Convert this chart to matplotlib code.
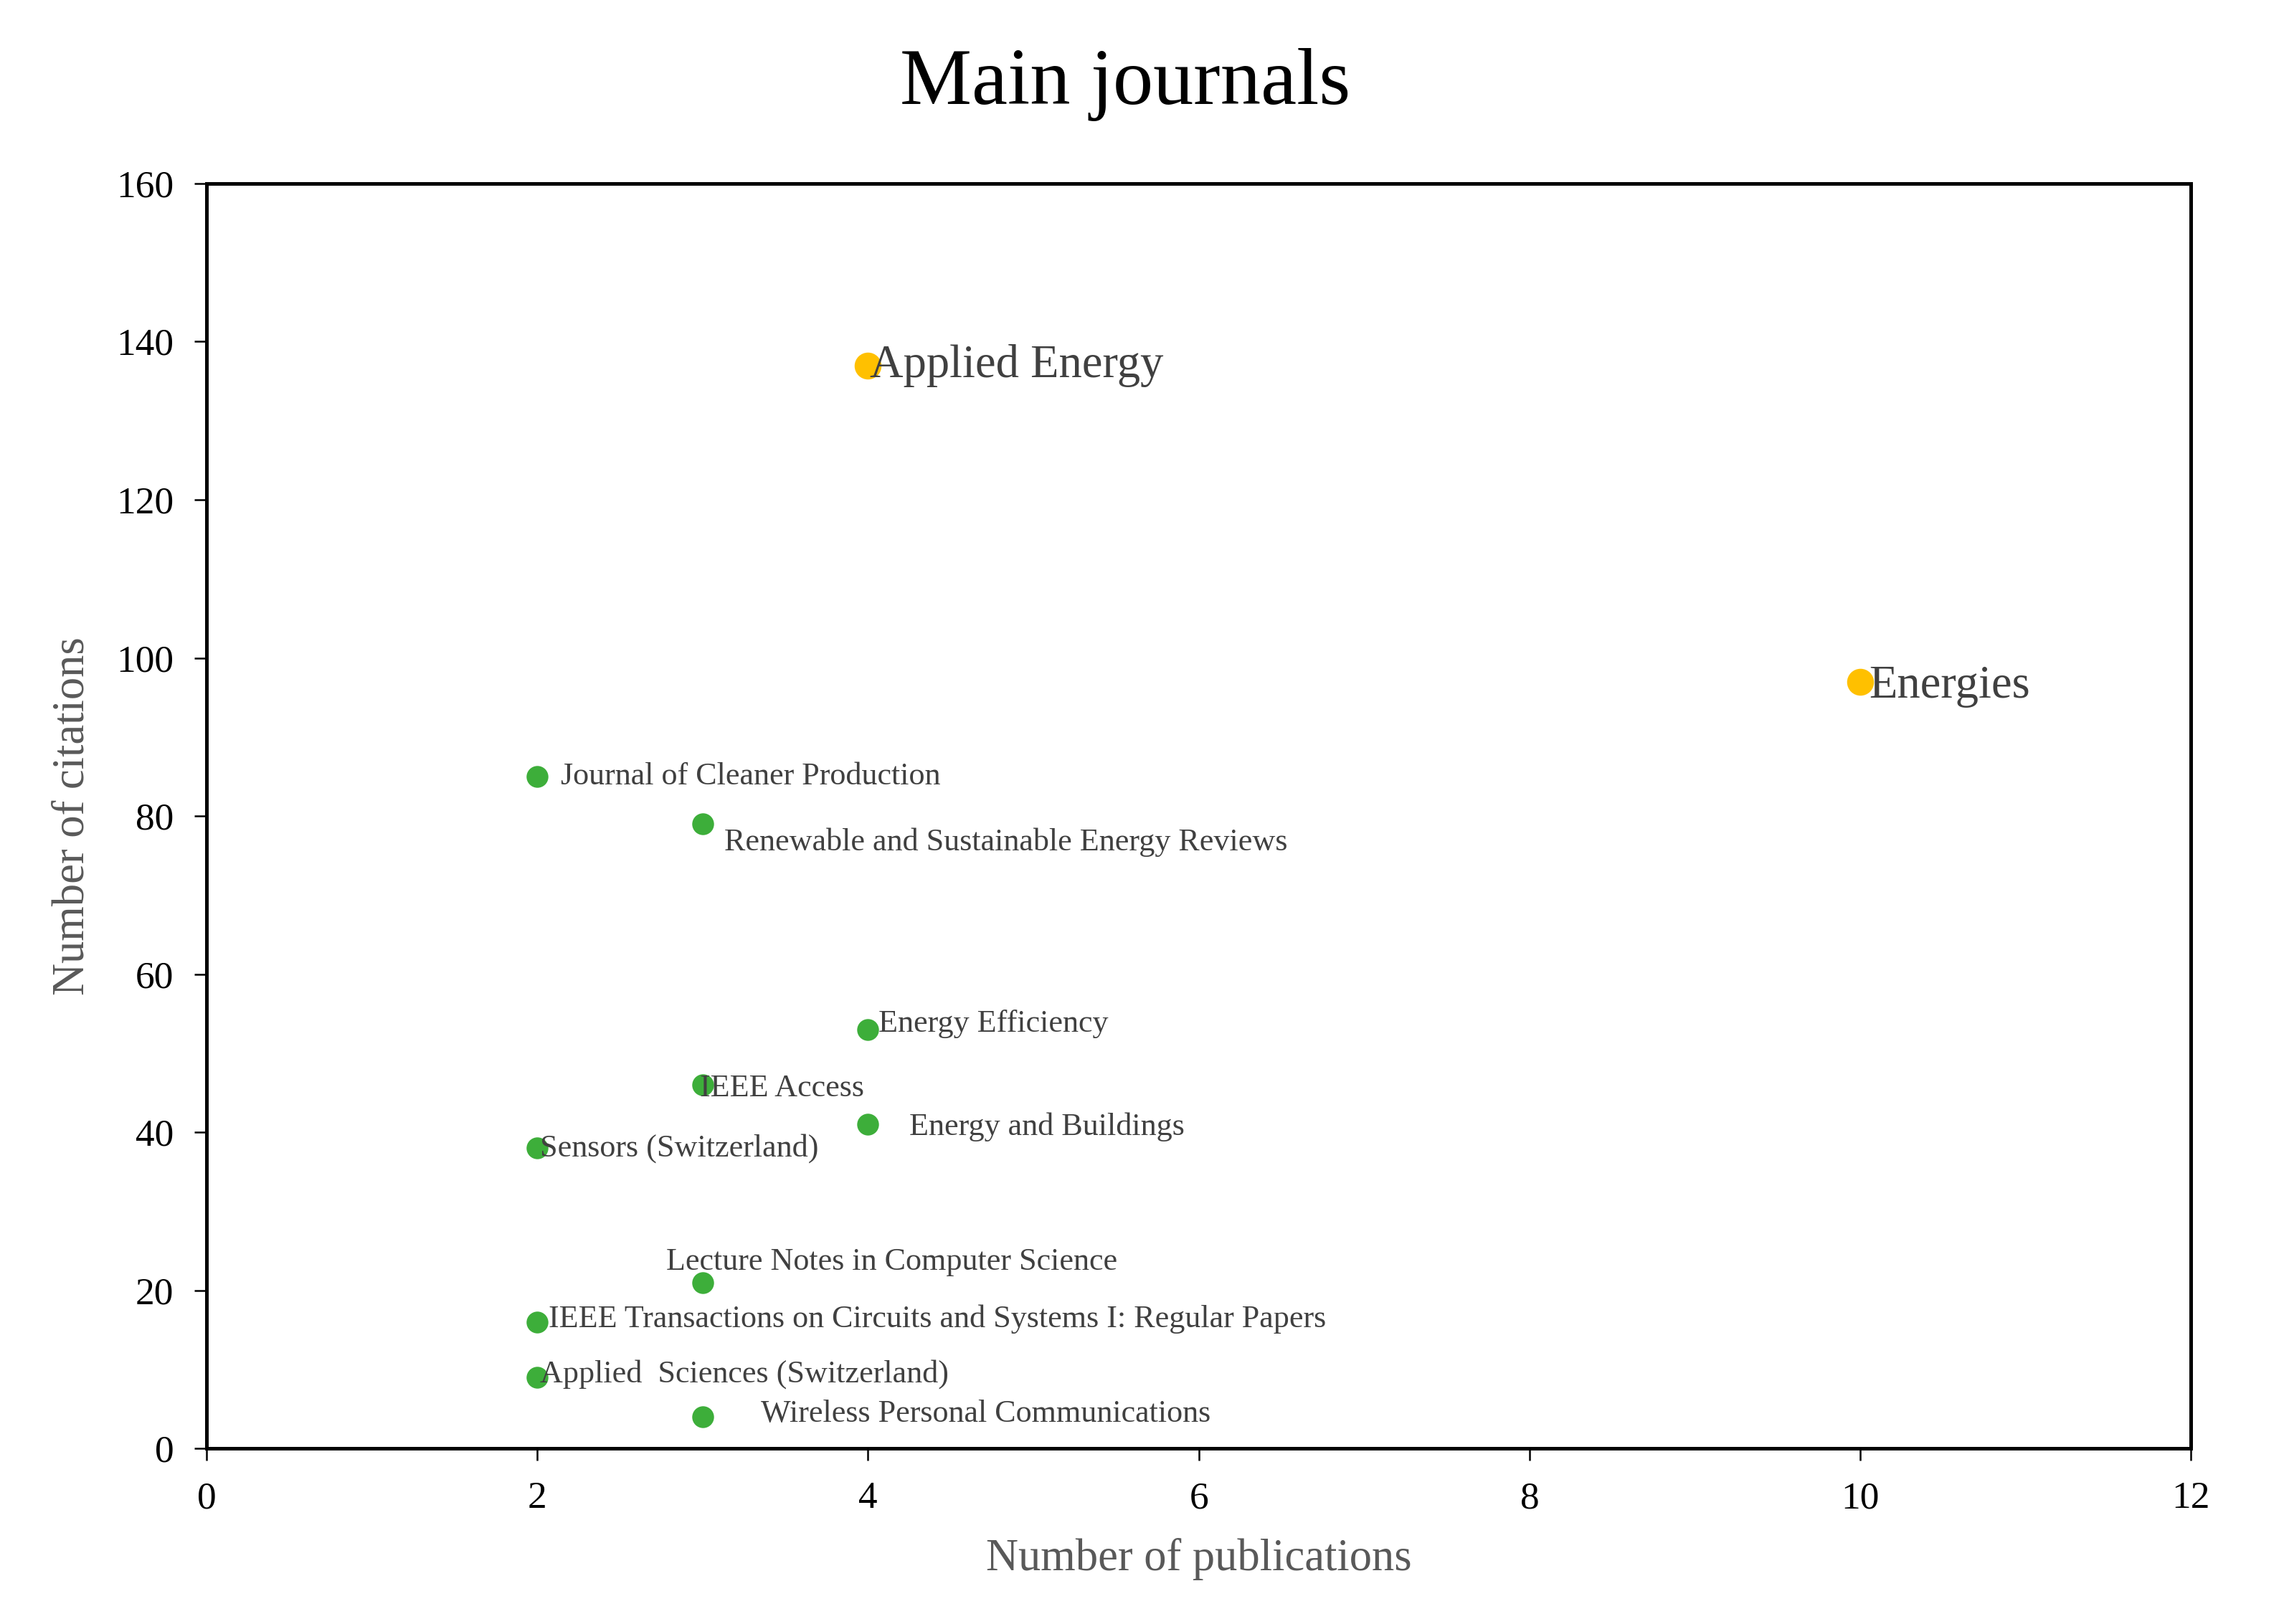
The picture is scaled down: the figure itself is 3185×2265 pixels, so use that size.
import matplotlib
matplotlib.use("Agg")
import matplotlib.pyplot as plt

# ----- data -----
journals = [
    "Applied Energy",
    "Energies",
    "Journal of Cleaner Production",
    "Renewable and Sustainable Energy Reviews",
    "Energy Efficiency",
    "IEEE Access",
    "Energy and Buildings",
    "Sensors (Switzerland)",
    "Lecture Notes in Computer Science",
    "IEEE Transactions on Circuits and Systems I: Regular Papers",
    "Applied  Sciences (Switzerland)",
    "Wireless Personal Communications",
]
publications = [4, 10, 2, 3, 4, 3, 4, 2, 3, 2, 2, 3]
citations = [137, 97, 85, 79, 53, 46, 41, 38, 21, 16, 9, 4]
top_group = [True, True, False, False, False, False, False, False, False, False, False, False]

# label offsets in points (left edge of text, vertical centre)
label_dx = [0.5, 3, 7.8, 7.3, 3.4, -1, 13.7, 1, -12.2, 3.9, 1, 19.5]
label_dy = [0, -1.5, 0, -6.2, 2, -1.2, -0.8, 0, 7, 1, 1, 1]

ORANGE = "#FFC000"
GREEN = "#3DAE3A"

plt.rcParams["font.family"] = ["Liberation Serif", "DejaVu Serif"]

fig = plt.figure(figsize=(10.62, 7.55), dpi=300)
ax = fig.add_axes([0.0904, 0.108, 0.959 - 0.0904, 0.887 - 0.108])

for i in range(len(journals)):
    if top_group[i]:
        ax.plot(publications[i], citations[i], "o", color=ORANGE, markersize=8, zorder=3)
        ax.annotate(journals[i], (publications[i], citations[i]),
                    xytext=(label_dx[i], label_dy[i]), textcoords="offset points",
                    ha="left", va="center", fontsize=15.5, color="#404040", zorder=4)
    else:
        ax.plot(publications[i], citations[i], "o", color=GREEN, markersize=6.3, zorder=3)
        ax.annotate(journals[i], (publications[i], citations[i]),
                    xytext=(label_dx[i], label_dy[i]), textcoords="offset points",
                    ha="left", va="center", fontsize=10.6, color="#404040", zorder=4)

ax.set_xlim(0, 12)
ax.set_ylim(0, 160)
ax.set_xticks(range(0, 13, 2))
ax.set_yticks(range(0, 161, 20))

for s in ax.spines.values():
    s.set_linewidth(1.2)
    s.set_color("black")
ax.tick_params(direction="out", length=4, width=0.6, pad=7, labelsize=12.8, colors="black")

fig.text(0.4925, 0.948, "Main journals", ha="center", va="center", fontsize=27, color="black")
fig.text(0.032, 0.4975, "Number of citations", ha="center", va="center", rotation=90,
         fontsize=15, color="#595959")
fig.text((0.0904 + 0.959) / 2, 0.04, "Number of publications", ha="center", va="center",
         fontsize=15, color="#595959")

fig.savefig("out.png", dpi=300, facecolor="white")
